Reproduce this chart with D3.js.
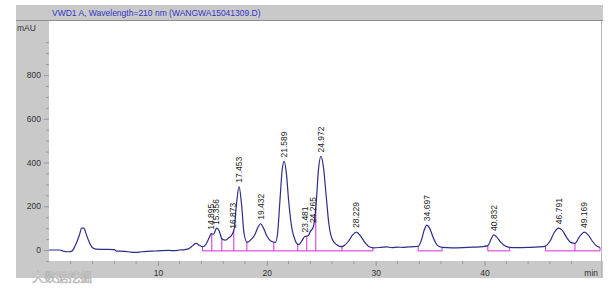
<!DOCTYPE html>
<html>
<head>
<meta charset="utf-8">
<script src="https://cdn.jsdelivr.net/npm/d3@7"></script>
<style>
  body { margin: 0; background: #fff; }
  svg { display: block; font-family: "Liberation Sans", Arial, sans-serif; }
</style>
</head>
<body>
<div id="chart"></div>
<script>
const title = "VWD1 A, Wavelength=210 nm (WANGWA15041309.D)";

// signal trace: time (min) and absorbance (mAU)
const times = [0, 1.0, 1.3, 1.6, 2.0, 2.2, 2.5, 2.8, 3.0, 3.2, 3.4, 3.7, 4.0, 4.3, 5.0, 6.0, 6.2, 7.0, 7.5, 8.0, 8.5, 9.0, 9.5, 10, 11, 11.5, 12.0, 12.5, 12.8,
  13.2, 13.5, 13.8, 14.1, 14.4, 14.7, 14.9, 15.1, 15.4, 15.6, 15.9, 16.2, 16.5, 16.8, 17.0, 17.2, 17.45, 17.7, 17.9, 18.2, 18.5, 18.9, 19.2, 19.43, 19.7,
  20.0, 20.4, 20.8, 21.0, 21.2, 21.4, 21.59, 21.8, 22.0, 22.3, 22.6, 22.9, 23.2, 23.48, 23.8, 24.0, 24.27, 24.5, 24.75, 24.97, 25.2, 25.45, 25.7, 26.0,
  26.4, 26.8, 27.1, 27.5, 27.9, 28.23, 28.6, 29.0, 29.4, 29.8, 30.5, 31.0, 31.5, 32.0, 32.5, 33.0, 33.5, 33.9, 34.2, 34.45, 34.7, 34.95, 35.3, 35.7,
  36.1, 37, 38, 39, 39.8, 40.3, 40.6, 40.83, 41.1, 41.5, 41.9, 42.3, 43, 44, 45, 45.6, 46.0, 46.4, 46.79, 47.1, 47.5, 47.9, 48.3, 48.7, 49.17, 49.5,
  49.9, 50.3, 50.6];
const signal = [0, 0, -5, -8, -7, 0, 30, 70, 100, 100, 75, 35, 10, 4, 3, 2, -5, -6, -10, -11, -8, -6, -5, -4, -2, -3, 0, 2, 5,
  20, 30, 22, 15, 25, 55, 75, 72, 100, 90, 50, 45, 55, 70, 95, 200, 290, 200, 80, 35, 45, 70, 105, 120, 100,
  65, 40, 35, 80, 220, 360, 405, 350, 230, 100, 45, 25, 40, 62, 65, 85, 105, 190, 370, 428, 380, 250, 120, 50,
  25, 15, 20, 40, 70, 82, 65, 35, 15, 10, 12, 14, 11, 13, 12, 14, 15, 17, 45, 90, 114, 100, 55, 20,
  12, 10, 11, 13, 15, 20, 50, 69, 60, 35, 18, 12, 11, 12, 14, 18, 40, 80, 100, 92, 60, 35, 30, 60, 82, 70,
  40, 18, 12];

// peak labels (retention times)
const peakLabels = ["14.895", "15.356", "16.873", "17.453", "19.432", "21.589", "23.481", "24.265", "24.972", "28.229", "34.697", "40.832", "46.791", "49.169"];

// integration baselines [start, end] in min, and drop-line times
const baseSegments = [[14.1, 29.75], [33.9, 36.1], [40.3, 42.3], [45.6, 50.6]];
const dropTimes = [14.1, 14.95, 15.87, 16.97, 18.17, 20.64, 22.84, 23.67, 24.5, 26.9, 29.75, 33.9, 36.1, 40.3, 42.3, 45.6, 48.3, 50.6];
const baseLevel = -4;

const yTicks = [0, 200, 400, 600, 800];
const xTicks = [10, 20, 30, 40];

const W = 613, H = 289;
const svg = d3.select("#chart").append("svg").attr("width", W).attr("height", H);

const plot = { left: 49, right: 600, top: 22, bottom: 261 };
const x = d3.scaleLinear().domain([0, 50.6]).range([plot.left, plot.right]);
const y = d3.scaleLinear().domain([0, 800]).range([250, 75]);

const grey = "#c9c9c9";

// frame
svg.append("rect").attr("x", 16).attr("y", 5).attr("width", 587).attr("height", 16).attr("fill", grey);
svg.append("line").attr("x1", 16).attr("x2", 603).attr("y1", 20.5).attr("y2", 20.5).attr("stroke", "#8e8e8e");
svg.append("rect").attr("x", 16).attr("y", 21).attr("width", plot.left - 16).attr("height", 257).attr("fill", grey);
svg.append("rect").attr("x", 16).attr("y", plot.bottom).attr("width", 587).attr("height", 17).attr("fill", grey);
svg.append("rect").attr("x", plot.left).attr("y", plot.top).attr("width", plot.right - plot.left + 1)
  .attr("height", plot.bottom - plot.top).attr("fill", "#fff");
svg.append("line").attr("x1", 601.5).attr("x2", 601.5).attr("y1", 21).attr("y2", 278).attr("stroke", "#b5b5b5");

svg.append("text").attr("x", 52).attr("y", 16).attr("font-size", 8.5).attr("fill", "#3434c8").text(title);
svg.append("text").attr("x", 17).attr("y", 31).attr("font-size", 8.5).attr("fill", "#333").text("mAU");

// y axis
const yAxis = g => g.attr("transform", `translate(${plot.left},0)`)
  .call(d3.axisLeft(y).tickValues(yTicks).tickSize(5).tickPadding(3))
  .call(g => g.select(".domain").remove());
const yMinor = d3.range(-50, 1001, 50).filter(v => v % 200 !== 0);
svg.append("g").selectAll("line").data(yMinor).join("line")
  .attr("x1", plot.left - 3).attr("x2", plot.left)
  .attr("y1", d => y(d) + 0.5).attr("y2", d => y(d) + 0.5)
  .attr("stroke", "#999");
svg.append("g").call(yAxis)
  .call(g => g.selectAll("line").attr("stroke", "#999"))
  .call(g => g.selectAll("text").attr("font-size", 8.5).attr("fill", "#333").attr("font-family", "Liberation Sans, Arial"));

// x axis
const xAxis = g => g.attr("transform", `translate(0,${plot.bottom})`)
  .call(d3.axisBottom(x).tickValues(xTicks).tickSize(5).tickPadding(4))
  .call(g => g.select(".domain").remove());
const xMinor = d3.range(2, 51, 2).filter(v => v % 10 !== 0);
svg.append("g").selectAll("line").data(xMinor).join("line")
  .attr("x1", d => x(d)).attr("x2", d => x(d))
  .attr("y1", plot.bottom).attr("y2", plot.bottom + 3)
  .attr("stroke", "#999");
svg.append("g").call(xAxis)
  .call(g => g.selectAll("line").attr("stroke", "#999"))
  .call(g => g.selectAll("text").attr("font-size", 8.5).attr("fill", "#333").attr("font-family", "Liberation Sans, Arial"));
svg.append("text").attr("x", 598).attr("y", 276).attr("text-anchor", "end")
  .attr("font-size", 8.5).attr("fill", "#333").text("min");

// value on the trace at time t
const bis = d3.bisector(d => d).left;
function at(t) {
  const i = Math.max(1, Math.min(times.length - 1, bis(times, t)));
  const t0 = times[i - 1], t1 = times[i];
  const k = (t - t0) / (t1 - t0);
  return signal[i - 1] + k * (signal[i] - signal[i - 1]);
}

// integration baselines and drop lines
const magenta = "#d62bd6";
svg.append("g").selectAll("line").data(baseSegments).join("line")
  .attr("x1", d => x(d[0])).attr("x2", d => x(d[1]))
  .attr("y1", y(baseLevel)).attr("y2", y(baseLevel))
  .attr("stroke", magenta).attr("stroke-width", 1);
svg.append("g").selectAll("line").data(dropTimes).join("line")
  .attr("x1", d => x(d)).attr("x2", d => x(d))
  .attr("y1", y(baseLevel)).attr("y2", d => y(at(d)))
  .attr("stroke", magenta).attr("stroke-width", 1);

// trace
const pts = times.map((t, i) => [t, signal[i]]);
const line = d3.line().x(d => x(d[0])).y(d => y(d[1])).curve(d3.curveMonotoneX);
svg.append("path").datum(pts).attr("d", line)
  .attr("fill", "none").attr("stroke", "#2c2c8a").attr("stroke-width", 1.2);

// peak labels
svg.append("g").selectAll("text").data(peakLabels).join("text")
  .attr("transform", d => `translate(${x(+d)},${y(at(+d)) - 4}) rotate(-90)`)
  .attr("dy", "0.35em")
  .attr("font-size", 8.5).attr("fill", "#222")
  .text(d => d);

// watermark
svg.append("text").attr("x", 32).attr("y", 282).attr("font-size", 12)
  .attr("fill", "#fff").attr("stroke", "#b0b0b0").attr("stroke-width", 0.6)
  .attr("font-family", "Noto Sans CJK SC").text("大数据挖掘");
</script>
</body>
</html>
